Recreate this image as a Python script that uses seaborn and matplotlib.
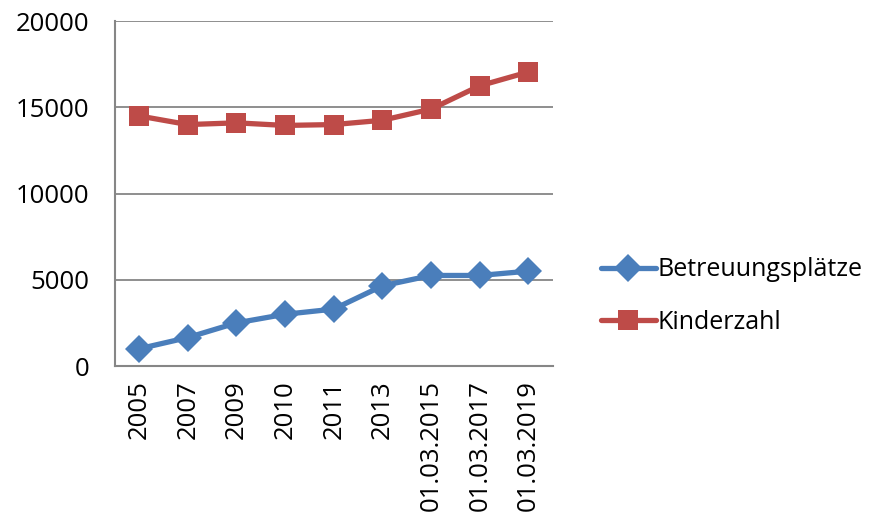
import matplotlib
matplotlib.use("Agg")
import matplotlib.pyplot as plt
import seaborn as sns
import pandas as pd
from matplotlib.ticker import FixedLocator

# Data
categories = ["2005", "2007", "2009", "2010", "2011", "2013",
              "01.03.2015", "01.03.2017", "01.03.2019"]
betreuungsplaetze = [1000, 1650, 2500, 3000, 3300, 4650, 5250, 5250, 5500]
kinderzahl = [14500, 14000, 14100, 13950, 14000, 14250, 14900, 16250, 17050]
y_ticks = [0, 5000, 10000, 15000, 20000]

sns.set_style("white")
plt.rcParams["font.family"] = ["Open Sans", "DejaVu Sans"]
plt.rcParams["text.color"] = "black"
plt.rcParams["xtick.labelcolor"] = "black"
plt.rcParams["ytick.labelcolor"] = "black"

df = pd.DataFrame({
    "pos": list(range(len(categories))) * 2,
    "value": betreuungsplaetze + kinderzahl,
    "series": ["Betreuungsplätze"] * len(categories) + ["Kinderzahl"] * len(categories),
})

fig = plt.figure(figsize=(8.83, 5.21), dpi=100)
ax = fig.add_axes([0.130, 0.2975, 0.496, 0.662])

grey = "#868686"
ax.yaxis.grid(True, color=grey, linewidth=1.3)
ax.set_axisbelow(True)

sns.lineplot(data=df, x="pos", y="value", hue="series", style="series",
             palette={"Betreuungsplätze": "#4A7EBB", "Kinderzahl": "#BE4B48"},
             markers={"Betreuungsplätze": "D", "Kinderzahl": "s"},
             dashes=False, linewidth=3.8, markersize=14.5, markeredgewidth=0,
             sort=False, ax=ax, legend=True)

ax.set_xlim(-0.5, len(categories) - 0.5)
ax.set_ylim(0, 20000)
ax.set_yticks(y_ticks)
ax.set_yticklabels([str(t) for t in y_ticks], fontsize=18.5)
ax.set_xticks(range(len(categories)))
ax.set_xticklabels(categories, rotation=90, fontsize=18.5)
ax.xaxis.set_minor_locator(FixedLocator([i - 0.5 for i in range(len(categories) + 1)]))
ax.tick_params(axis="x", which="major", length=0, pad=10)
ax.tick_params(axis="x", which="minor", length=9, width=1.3, color=grey, direction="out")
ax.tick_params(axis="y", length=9, width=1.3, color=grey, direction="out", pad=9)
ax.set_xlabel("")
ax.set_ylabel("")

for side in ["top", "right"]:
    ax.spines[side].set_visible(False)
for side in ["left", "bottom"]:
    ax.spines[side].set_color(grey)
    ax.spines[side].set_linewidth(1.5)

handles, labels = ax.get_legend_handles_labels()
ax.legend(handles, labels, loc="center left", bbox_to_anchor=(588 / 883, 1 - 296 / 521),
          bbox_transform=fig.transFigure, frameon=False, fontsize=18,
          handlelength=2.2, handletextpad=0.1, labelspacing=1.1, borderpad=0)

fig.savefig("out.png", dpi=100)
